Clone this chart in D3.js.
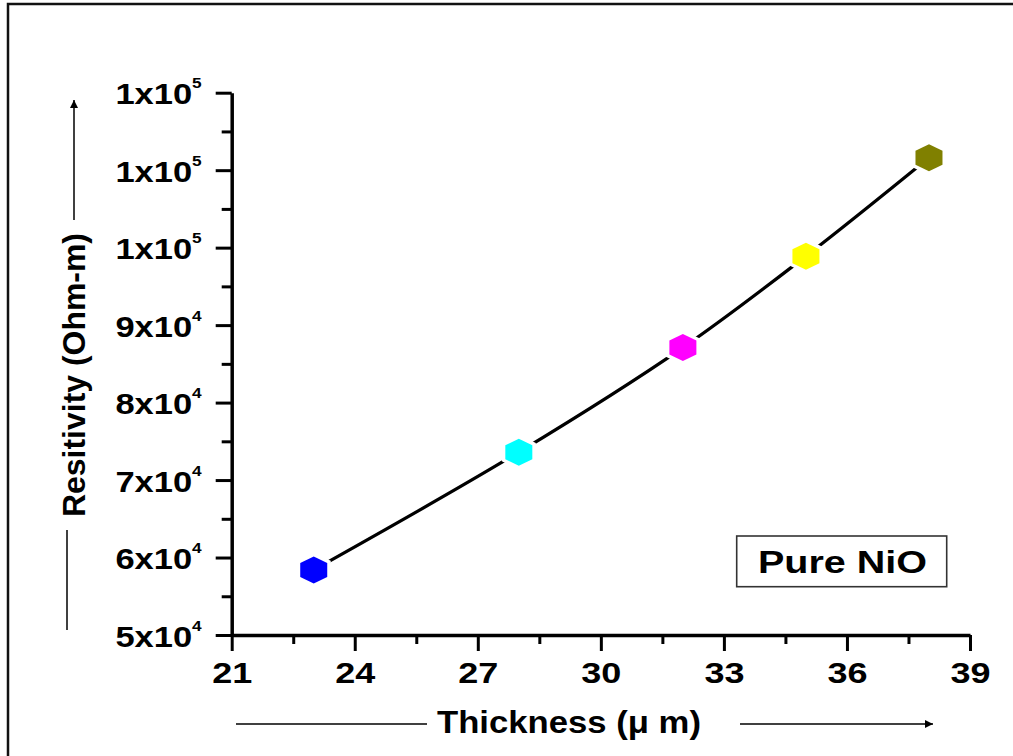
<!DOCTYPE html>
<html>
<head>
<meta charset="utf-8">
<script src="https://cdn.jsdelivr.net/npm/d3@7"></script>
<style>
  body { margin: 0; background: #fff; }
  svg { display: block; font-family: "Liberation Sans", Arial, sans-serif; }
</style>
</head>
<body>
<script>
// data
var thickness   = [23, 28, 32, 35, 38];
var resistivity = [58400, 73600, 87100, 98900, 111600];
var pointColors = ["#0000ff", "#00ffff", "#ff00ff", "#ffff00", "#808000"];

var xTicks      = [21, 24, 27, 30, 33, 36, 39];
var xMinorTicks = [22.5, 25.5, 28.5, 31.5, 34.5, 37.5];
var yTicks      = [50000, 60000, 70000, 80000, 90000, 100000, 110000, 120000];
var yMinorTicks = [55000, 65000, 75000, 85000, 95000, 105000, 115000];
var yTickBase   = ["5x10", "6x10", "7x10", "8x10", "9x10", "1x10", "1x10", "1x10"];
var yTickExp    = ["4", "4", "4", "4", "4", "5", "5", "5"];

var legendText = "Pure NiO";
var xTitle = "Thickness (\u03bc m)";
var yTitle = "Resitivity (Ohm-m)";

var width = 1013, height = 756;

var x = d3.scaleLinear().domain([21, 39]).range([231.7, 970]);
var y = d3.scaleLinear().domain([50000, 120000]).range([635, 92.7]);

var svg = d3.select("body").append("svg")
    .attr("width", width)
    .attr("height", height);

// outer frame (cut off on right / bottom)
svg.append("rect")
    .attr("x", 8).attr("y", 4)
    .attr("width", 1020).attr("height", 770)
    .attr("fill", "none")
    .attr("stroke", "#111")
    .attr("stroke-width", 2.5);

// minor ticks first
svg.append("g")
    .attr("transform", "translate(0," + y(50000) + ")")
    .call(d3.axisBottom(x).tickValues(xMinorTicks).tickSize(9).tickFormat("").tickSizeOuter(0))
    .call(function(g) { g.select(".domain").remove(); })
    .selectAll("line").attr("stroke", "#000").attr("stroke-width", 3);

svg.append("g")
    .attr("transform", "translate(" + x(21) + ",0)")
    .call(d3.axisLeft(y).tickValues(yMinorTicks).tickSize(10).tickFormat("").tickSizeOuter(0))
    .call(function(g) { g.select(".domain").remove(); })
    .selectAll("line").attr("stroke", "#000").attr("stroke-width", 3);

// x axis
var xg = svg.append("g")
    .attr("transform", "translate(0," + y(50000) + ")")
    .call(d3.axisBottom(x).tickValues(xTicks).tickSize(16).tickSizeOuter(0).tickPadding(0));

xg.select(".domain").attr("stroke", "#000").attr("stroke-width", 3.5);
xg.selectAll(".tick line").attr("stroke", "#000").attr("stroke-width", 3);
xg.selectAll(".tick text")
    .attr("y", 48).attr("dy", null)
    .attr("transform", "scale(1.2,1)")
    .attr("fill", "#000")
    .style("font-size", "30px")
    .style("font-weight", "bold");

// y axis
var yg = svg.append("g")
    .attr("transform", "translate(" + x(21) + ",0)")
    .call(d3.axisLeft(y).tickValues(yTicks).tickSize(16).tickSizeOuter(0).tickFormat(""));

yg.select(".domain").attr("stroke", "#000").attr("stroke-width", 3.5);
yg.selectAll(".tick line").attr("stroke", "#000").attr("stroke-width", 3);

var ylab = yg.selectAll(".tick").append("g")
    .attr("transform", "translate(-30,11) scale(1.15,1)")
    .append("text")
    .attr("text-anchor", "end")
    .attr("fill", "#000")
    .style("font-weight", "bold");

ylab.append("tspan")
    .style("font-size", "30px")
    .text(function(d, i) { return yTickBase[i]; });
ylab.append("tspan")
    .attr("dy", -16)
    .style("font-size", "15px")
    .text(function(d, i) { return yTickExp[i]; });

// data line
var line = d3.line()
    .x(function(d) { return x(d[0]); })
    .y(function(d) { return y(d[1]); })
    .curve(d3.curveCatmullRom);

var pts = thickness.map(function(t, i) { return [t, resistivity[i], pointColors[i]]; });

svg.append("path")
    .datum(pts)
    .attr("d", line)
    .attr("fill", "none")
    .attr("stroke", "#000")
    .attr("stroke-width", 3.2);

var hex = "M0,-13.5L13.5,-7L13.5,7L0,13.5L-13.5,7L-13.5,-7Z";

svg.selectAll(".pt")
    .data(pts)
    .enter().append("path")
    .attr("class", "pt")
    .attr("d", hex)
    .attr("transform", function(d) { return "translate(" + x(d[0]) + "," + y(d[1]) + ")"; })
    .attr("fill", function(d) { return d[2]; })
    .attr("stroke", "#fff")
    .attr("stroke-width", 7)
    .attr("paint-order", "stroke");

// legend box
svg.append("rect")
    .attr("x", 736.7).attr("y", 536)
    .attr("width", 210).attr("height", 50.7)
    .attr("fill", "#fff")
    .attr("stroke", "#333")
    .attr("stroke-width", 1.6);

svg.append("text")
    .attr("x", 758).attr("y", 573)
    .attr("textLength", 169)
    .attr("lengthAdjust", "spacingAndGlyphs")
    .style("font-size", "31px")
    .style("font-weight", "bold")
    .text(legendText);

// axis titles with arrows
svg.append("defs").append("marker")
    .attr("id", "arr")
    .attr("viewBox", "0 0 10 10")
    .attr("refX", 10).attr("refY", 5)
    .attr("markerWidth", 14).attr("markerHeight", 8)
    .attr("markerUnits", "userSpaceOnUse")
    .attr("orient", "auto")
    .append("path").attr("d", "M0,0L10,5L0,10Z").attr("fill", "#000");

svg.append("text")
    .attr("x", 437).attr("y", 733)
    .attr("textLength", 264)
    .attr("lengthAdjust", "spacingAndGlyphs")
    .style("font-size", "31px")
    .style("font-weight", "bold")
    .text(xTitle);

svg.append("line")
    .attr("x1", 236).attr("x2", 427).attr("y1", 724).attr("y2", 724)
    .attr("stroke", "#000").attr("stroke-width", 1.5);
svg.append("line")
    .attr("x1", 740).attr("x2", 933).attr("y1", 724).attr("y2", 724)
    .attr("stroke", "#000").attr("stroke-width", 1.5)
    .attr("marker-end", "url(#arr)");

svg.append("text")
    .attr("transform", "translate(85,517) rotate(-90)")
    .attr("textLength", 284)
    .attr("lengthAdjust", "spacingAndGlyphs")
    .style("font-size", "32px")
    .style("font-weight", "bold")
    .text(yTitle);

svg.append("line")
    .attr("x1", 67).attr("x2", 67).attr("y1", 630).attr("y2", 530)
    .attr("stroke", "#000").attr("stroke-width", 1.5);
svg.append("line")
    .attr("x1", 74).attr("x2", 74).attr("y1", 220).attr("y2", 100)
    .attr("stroke", "#000").attr("stroke-width", 1.5)
    .attr("marker-end", "url(#arr)");
</script>
</body>
</html>
